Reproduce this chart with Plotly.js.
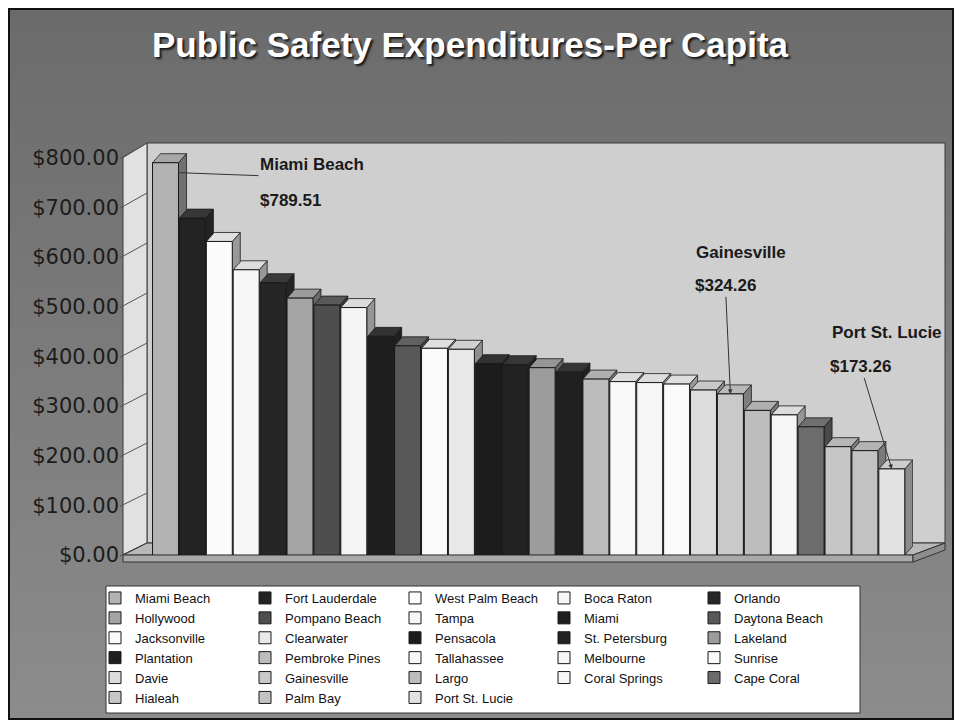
<!DOCTYPE html>
<html>
<head>
<meta charset="utf-8">
<script src="https://cdn.plot.ly/plotly-3.0.1.min.js"></script>
<style>html,body{margin:0;padding:0;background:#fff;}#chart{width:961px;height:727px;}</style>
</head>
<body>
<div id="chart"></div>
<script>
// ---------------- DATA ----------------
const cities = ["Miami Beach","Fort Lauderdale","West Palm Beach","Boca Raton","Orlando",
  "Hollywood","Pompano Beach","Tampa","Miami","Daytona Beach",
  "Jacksonville","Clearwater","Pensacola","St. Petersburg","Lakeland",
  "Plantation","Pembroke Pines","Tallahassee","Melbourne","Sunrise",
  "Davie","Gainesville","Largo","Coral Springs","Cape Coral",
  "Hialeah","Palm Bay","Port St. Lucie"];
const perCapita = [789.51,678,631,574,548,
  517,503,498,440,421,
  416,414,385,383,377,
  368,354,349,347,344,
  332,324.26,291,282,258,
  218,210,173.26];
const barColors = ["#b3b3b3","#232323","#fbfbfb","#f7f7f7","#262626",
  "#a4a4a4","#4e4e4e","#f5f5f5","#1e1e1e","#585858",
  "#fafafa","#e8e8e8","#1c1c1c","#222222","#9c9c9c",
  "#202020","#bcbcbc","#f8f8f8","#f6f6f6","#fafafa",
  "#dcdcdc","#c9c9c9","#bdbdbd","#f6f6f6","#6c6c6c",
  "#c6c6c6","#c2c2c2","#e2e2e2"];
const yTicks = [0,100,200,300,400,500,600,700,800];
const calloutCities = ["Miami Beach","Gainesville","Port St. Lucie"];
const chartTitle = "Public Safety Expenditures-Per Capita";

// ---------------- GEOMETRY (pixels) ----------------
const W = 961, H = 727;
const fx = p => p / W;
const fy = p => 1 - p / H;
const FRONT = {x0:123, x1:913, y0:555};
const PXV = 397.5 / 800;            // px per $ on the front plane
const Y2MAX = 830;
const BACK = {x0:147, x1:945, y0:543, y1:143};
const PXV_BACK = (BACK.y0 - BACK.y1) / 800;
const PITCH = 26.9, FIRST_C = 165.5;
const xr0 = -(FIRST_C - FRONT.x0) / PITCH;
const xr1 = (FRONT.x1 - FIRST_C) / PITCH;
const BARW = 0.965, DX = 8 / PITCH, DY = 9 / PXV;

function hexToRgb(h){return [parseInt(h.slice(1,3),16),parseInt(h.slice(3,5),16),parseInt(h.slice(5,7),16)];}
function shade(h, k, add){const c=hexToRgb(h).map(v=>Math.max(0,Math.min(255,Math.round(v*k+add))));return 'rgb('+c.join(',')+')';}

const traces = [];
// side and top faces (behind front faces)
perCapita.forEach((v,i)=>{
  const xl = i - BARW/2, xrr = i + BARW/2;
  traces.push({type:'scatter', mode:'lines', xaxis:'x2', yaxis:'y2', zorder:0,
    x:[xrr, xrr, xrr+DX, xrr+DX, xrr], y:[0, v, v+DY, DY, 0],
    fill:'toself', fillcolor: shade(barColors[i], 0.55, 15),
    line:{color:'#1a1a1a', width:0.8}, showlegend:false, hoverinfo:'skip'});
  traces.push({type:'scatter', mode:'lines', xaxis:'x2', yaxis:'y2', zorder:0,
    x:[xl, xrr, xrr+DX, xl+DX, xl], y:[v, v, v+DY, v+DY, v],
    fill:'toself', fillcolor: shade(barColors[i], 0.78, 28),
    line:{color:'#1a1a1a', width:0.8}, showlegend:false, hoverinfo:'skip'});
});
// front faces: one bar trace per city (for the legend)
const legendIds = ['legend','legend2','legend3','legend4','legend5'];
perCapita.forEach((v,i)=>{
  traces.push({type:'bar', xaxis:'x2', yaxis:'y2', zorder:1,
    x:[i], y:[v], width:[BARW], name:cities[i], legend:legendIds[i%5],
    marker:{color:barColors[i], line:{color:'#1a1a1a', width:1}},
    hovertemplate:cities[i]+': %{y:$,.2f}<extra></extra>'});
});

// ---------------- SHAPES ----------------
const shapes = [];
// outer frame
shapes.push({type:'rect', xref:'paper', yref:'paper', layer:'below',
  x0:fx(9), x1:fx(953), y0:fy(719), y1:fy(9), line:{color:'#111', width:2}, fillcolor:'rgba(0,0,0,0)'});
// back wall
shapes.push({type:'rect', xref:'paper', yref:'paper', layer:'below',
  x0:fx(BACK.x0), x1:fx(BACK.x1), y0:fy(BACK.y0), y1:fy(BACK.y1),
  fillcolor:'#cfcfcf', line:{color:'#3a3a3a', width:1}});
// left wall
const fTopY = FRONT.y0 - 800*PXV;
shapes.push({type:'path', xref:'paper', yref:'paper', layer:'below',
  path:`M${fx(FRONT.x0)},${fy(FRONT.y0)} L${fx(FRONT.x0)},${fy(fTopY)} L${fx(BACK.x0)},${fy(BACK.y1)} L${fx(BACK.x0)},${fy(BACK.y0)} Z`,
  fillcolor:'#e1e1e1', line:{color:'#3a3a3a', width:1}});
// tick connectors on left wall
yTicks.forEach(t=>{
  shapes.push({type:'line', xref:'paper', yref:'paper', layer:'below',
    x0:fx(FRONT.x0-3), y0:fy(FRONT.y0 - t*PXV + 1), x1:fx(BACK.x0), y1:fy(BACK.y0 - t*PXV_BACK),
    line:{color:'#555', width:1}});
});
// floor
shapes.push({type:'path', xref:'paper', yref:'paper', layer:'below',
  path:`M${fx(FRONT.x0)},${fy(FRONT.y0)} L${fx(FRONT.x1)},${fy(FRONT.y0)} L${fx(BACK.x1)},${fy(BACK.y0)} L${fx(BACK.x0)},${fy(BACK.y0)} Z`,
  fillcolor:'#b9b9b9', line:{color:'#333', width:1}});
shapes.push({type:'path', xref:'paper', yref:'paper', layer:'below',
  path:`M${fx(FRONT.x0)},${fy(FRONT.y0)} L${fx(FRONT.x1)},${fy(FRONT.y0)} L${fx(FRONT.x1)},${fy(FRONT.y0+7)} L${fx(FRONT.x0)},${fy(FRONT.y0+7)} Z`,
  fillcolor:'#a9a9a9', line:{color:'#333', width:1}});
shapes.push({type:'path', xref:'paper', yref:'paper', layer:'below',
  path:`M${fx(FRONT.x1)},${fy(FRONT.y0)} L${fx(BACK.x1)},${fy(BACK.y0)} L${fx(BACK.x1)},${fy(BACK.y0+7)} L${fx(FRONT.x1)},${fy(FRONT.y0+7)} Z`,
  fillcolor:'#8e8e8e', line:{color:'#333', width:1}});
// legend box
shapes.push({type:'rect', xref:'paper', yref:'paper', layer:'below',
  x0:fx(106), x1:fx(860), y0:fy(713), y1:fy(586), fillcolor:'#ffffff', line:{color:'#333', width:1}});

// ---------------- ANNOTATIONS ----------------
const annFont = {family:'Liberation Sans, Arial, sans-serif', size:17, color:'#1a1a1a', weight:'bold'};
const fmt = v => '$' + v.toFixed(2);
const annotations = [];
const iMB = cities.indexOf(calloutCities[0]);
const iG = cities.indexOf(calloutCities[1]);
const iP = cities.indexOf(calloutCities[2]);
// Miami Beach: horizontal leader line
annotations.push({xref:'x2', yref:'y2', x:iMB + BARW/2, y:perCapita[iMB] - 20,
  text:cities[iMB], showarrow:true, arrowhead:0, arrowwidth:1, arrowcolor:'#333',
  ax:80, ay:3, xanchor:'left', yanchor:'bottom', font:annFont, standoff:0});
annotations.push({xref:'x2', yref:'y2', x:iMB + BARW/2, y:perCapita[iMB] - 20,
  text:fmt(perCapita[iMB]), showarrow:false, xanchor:'left', yanchor:'middle',
  xshift:80, yshift:-28, font:annFont});
// Gainesville
annotations.push({xref:'x2', yref:'y2', x:iG, y:perCapita[iG],
  text:fmt(perCapita[iG]), showarrow:true, arrowhead:2, arrowsize:0.9, arrowwidth:1, arrowcolor:'#333',
  ax:-5, ay:-108, font:annFont});
annotations.push({xref:'x2', yref:'y2', x:iG, y:perCapita[iG],
  text:cities[iG], showarrow:false, xshift:11, yshift:141, font:annFont});
// Port St. Lucie
annotations.push({xref:'x2', yref:'y2', x:iP, y:perCapita[iP],
  text:fmt(perCapita[iP]), showarrow:true, arrowhead:2, arrowsize:0.9, arrowwidth:1, arrowcolor:'#333',
  ax:-31, ay:-102, font:annFont});
annotations.push({xref:'x2', yref:'y2', x:iP, y:perCapita[iP],
  text:cities[iP], showarrow:false, xshift:-5, yshift:136, font:annFont});

// ---------------- LEGENDS ----------------
const legendTextX = [135, 285, 435, 584, 734];
const legFont = {family:'Liberation Sans, Arial, sans-serif', size:13, color:'#111'};
const layoutLegends = {};
legendIds.forEach((id,k)=>{
  layoutLegends[id] = {x:fx(legendTextX[k]-40), xanchor:'left', y:fy(583), yanchor:'top',
    bgcolor:'rgba(0,0,0,0)', borderwidth:0, font:legFont, orientation:'v',
    itemwidth:30, tracegroupgap:0, itemclick:false, itemdoubleclick:false};
});

// background gradient
const bgSvg = '<svg xmlns="http://www.w3.org/2000/svg" width="10" height="100" viewBox="0 0 10 100" preserveAspectRatio="none">' +
  '<defs><linearGradient id="g" x1="0" y1="0" x2="0" y2="1"><stop offset="0" stop-color="#6b6b6b"/><stop offset="1" stop-color="#8c8c8c"/></linearGradient></defs>' +
  '<rect width="10" height="100" fill="url(#g)"/></svg>';

const layout = Object.assign({
  width:W, height:H,
  margin:{l:0, r:0, t:0, b:0, pad:0, autoexpand:false},
  paper_bgcolor:'#ffffff', plot_bgcolor:'rgba(0,0,0,0)',
  barmode:'overlay',
  title:{text:chartTitle, x:470/W, xanchor:'center', xref:'container', y:1-45/H, yanchor:'middle', yref:'container',
    font:{family:'Liberation Sans, Arial, sans-serif', size:35, color:'#ffffff', weight:'bold', shadow:'2px 2px 2px #1a1a1a'}},
  xaxis:{domain:[fx(BACK.x0), fx(BACK.x1)], range:[0,1], visible:false, fixedrange:true, anchor:'y'},
  yaxis:{domain:[fy(BACK.y0), fy(BACK.y1)], range:[0,800], tickvals:yTicks, showticklabels:false,
    showgrid:true, gridcolor:'#3c3c3c', gridwidth:1, zeroline:false, ticks:'', fixedrange:true, anchor:'x'},
  xaxis2:{domain:[fx(FRONT.x0), fx(FRONT.x1)], range:[xr0, xr1], visible:false, fixedrange:true, anchor:'y2'},
  yaxis2:{domain:[fy(FRONT.y0), fy(FRONT.y0 - Y2MAX*PXV)], range:[0, Y2MAX], tickvals:yTicks, tickformat:'$,.2f',
    showgrid:false, zeroline:false, showline:false, ticks:'', anchor:'x2', fixedrange:true, ticklabelstandoff:3,
    tickfont:{family:'DejaVu Sans, sans-serif', size:21, color:'#1c1c1c'}},
  shapes:shapes,
  annotations:annotations,
  images:[{source:'data:image/svg+xml;charset=utf-8,'+encodeURIComponent(bgSvg), xref:'paper', yref:'paper',
    x:fx(10), y:fy(10), sizex:943/W, sizey:708/H, sizing:'stretch', xanchor:'left', yanchor:'top', layer:'below'}]
}, layoutLegends);

Plotly.newPlot('chart', traces, layout, {displayModeBar:false, responsive:false});
</script>
</body>
</html>
